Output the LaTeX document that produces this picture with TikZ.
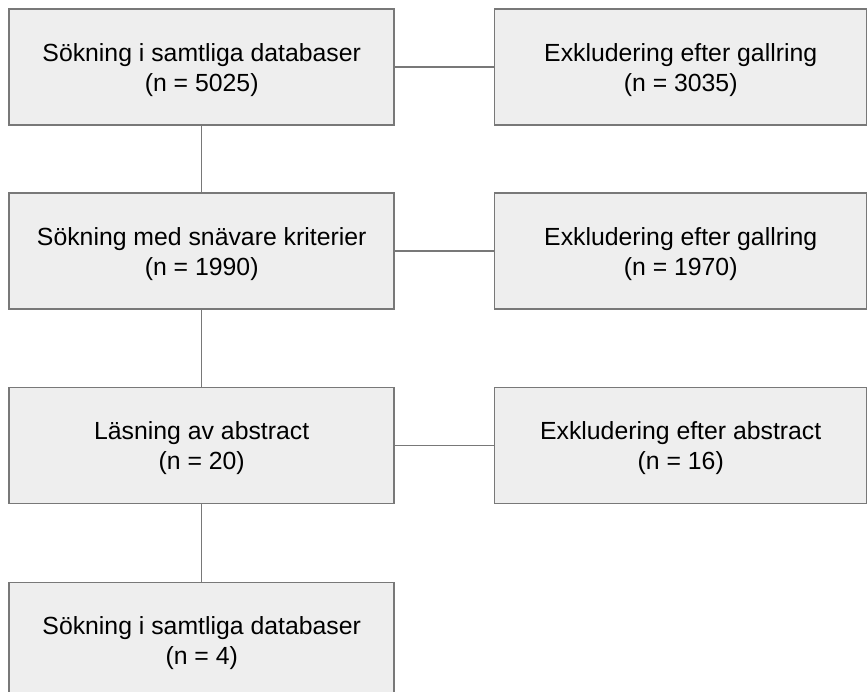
\documentclass[tikz,border=0pt]{standalone}
\usepackage{fontspec}
\setmainfont{Liberation Sans}
\usetikzlibrary{positioning}

\definecolor{boxfill}{RGB}{238,238,238}
\definecolor{boxline}{RGB}{120,120,120}

\begin{document}
\begin{tikzpicture}[x=1pt, y=1pt,
            every node/.style={draw=boxline, line width=1.5pt, rectangle, fill=boxfill,
                align=center, inner sep=0pt, minimum height=116pt, text depth=0pt,
                font=\fontsize{24.8}{30}\selectfont},
            search/.style={minimum width=385pt},
            excl/.style={minimum width=372pt},
            link/.style={draw=boxline, line width=1.5pt}]
        \useasboundingbox (0,0) rectangle (867,-691);
        % left column
        \node[search] (s1) at (201.7,-67.2) {Sökning i samtliga databaser\\(n = 5025)};
        \node[search, below=66.5pt of s1] (s2) {Sökning med snävare kriterier\\(n = 1990)};
        \node[search, below=77pt of s2] (s3) {Läsning av abstract\\(n = 20)};
        \node[search, below=77.5pt of s3] (s4) {Sökning i samtliga databaser\\(n = 4)};
        % right column
        \node[excl, right=99pt of s1] (e1) {Exkludering efter gallring\\(n = 3035)};
        \node[excl, right=99pt of s2] (e2) {Exkludering efter gallring\\(n = 1970)};
        \node[excl, right=99pt of s3] (e3) {Exkludering efter abstract\\(n = 16)};
        % connectors
        \path[link] (s1) -- (s2);
        \path[link] (s2) -- (s3);
        \path[link] (s3) -- (s4);
        \path[link] (s1) -- (e1);
        \path[link] (s2) -- (e2);
        \path[link] (s3) -- (e3);
\end{tikzpicture}
\end{document}
